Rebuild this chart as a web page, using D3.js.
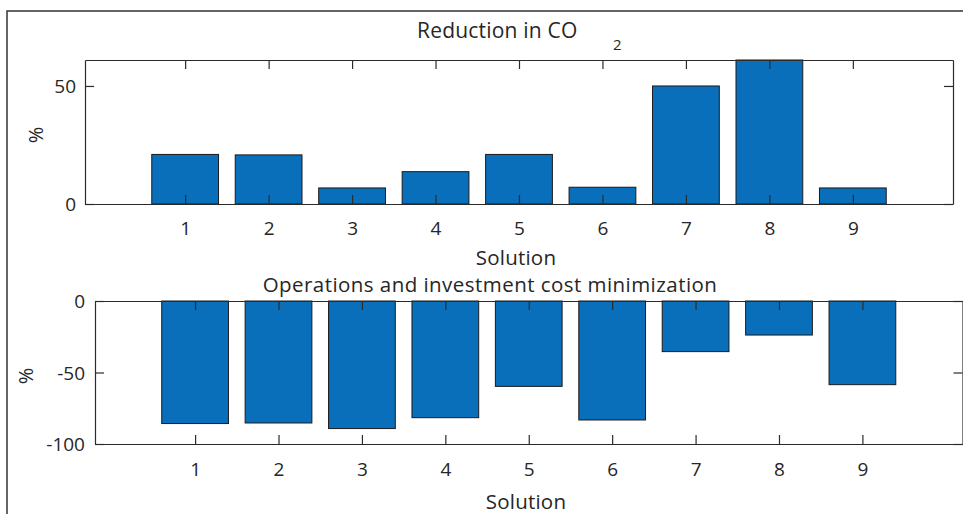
<!DOCTYPE html>
<html><head><meta charset="utf-8">
<script src="https://cdn.jsdelivr.net/npm/d3@7/dist/d3.min.js"></script>
<style>body{margin:0;background:#fff}svg{display:block}text{font-family:"Open Sans",sans-serif;fill:#262626}</style>
</head><body><svg id="c" width="963" height="514"></svg>
<script>
const solutions = [1,2,3,4,5,6,7,8,9];
const co2Reduction = [21.0, 20.8, 6.8, 13.7, 21.0, 7.1, 50.0, 61.0, 6.8];
const costChange = [-85.7, -85.3, -89.2, -81.6, -59.7, -83.2, -35.4, -23.8, -58.5];
const topYTicks = [0, 50];
const botYTicks = [-100, -50, 0];

const svg = d3.select("#c");
const axisColor = "#2b2b2b";
const barColor = "#0a6fba";

// figure border
svg.append("path").attr("d", "M7,514V11H963").attr("fill","none").attr("stroke","#333").attr("stroke-width",1.5);

function panel(o){
  const x = d3.scaleLinear().domain([-0.2, 10.2]).range([o.left, o.right]);
  const y = d3.scaleLinear().domain(o.ydom).range([o.bottom, o.top]);
  const g = svg.append("g");
  const bw = x(0.8) - x(0);
  g.selectAll("rect").data(solutions).join("rect")
    .attr("x", d => x(d) - bw/2)
    .attr("width", bw)
    .attr("y", (d,i) => Math.min(y(o.values[i]), y(0)))
    .attr("height", (d,i) => Math.abs(y(o.values[i]) - y(0)))
    .attr("fill", barColor).attr("stroke", "#1a1a1a").attr("stroke-width", 1);
  const tl = 9;
  const fmt = d => String(d);
  const axB = d3.axisBottom(x).tickValues(solutions).tickSizeInner(tl).tickSizeOuter(0).tickFormat(fmt);
  const axT = d3.axisTop(x).tickValues(solutions).tickSizeInner(tl).tickSizeOuter(0).tickFormat("");
  const axL = d3.axisLeft(y).tickValues(o.yticks).tickSizeInner(tl).tickSizeOuter(0).tickFormat(fmt);
  const axR = d3.axisRight(y).tickValues(o.yticks).tickSizeInner(tl).tickSizeOuter(0).tickFormat("");
  function style(sel){
    sel.select(".domain").attr("stroke", axisColor).attr("stroke-width",1.2);
    sel.selectAll(".tick line").attr("stroke", axisColor).attr("stroke-width",1.2);
    sel.selectAll(".tick text").attr("fill", axisColor).style("font-size","19px").style("font-family","'Open Sans',sans-serif");
  }
  const gb = g.append("g").attr("transform",`translate(0,${o.bottom})`).call(axB).call(style);
  gb.selectAll(".tick line").attr("y2", -tl);
  gb.selectAll(".tick text").attr("y", o.xLabelDy).attr("dy", null);
  const gt = g.append("g").attr("transform",`translate(0,${o.top})`).call(axT).call(style);
  gt.selectAll(".tick line").attr("y2", tl);
  const gl = g.append("g").attr("transform",`translate(${o.left},0)`).call(axL).call(style);
  gl.selectAll(".tick line").attr("x2", tl);
  gl.selectAll(".tick text").attr("x", o.yLabelDx).attr("dy","0.35em");
  const gr = g.append("g").attr("transform",`translate(${o.right},0)`).call(axR).call(style);
  gr.selectAll(".tick line").attr("x2", -tl);
  return {x, y, g};
}

panel({left:85, right:953, top:60, bottom:204, ydom:[0,61], values:co2Reduction, yticks:topYTicks, xLabelDy:31, yLabelDx:-9});
panel({left:95, right:962.5, top:301, bottom:444, ydom:[-100,0], values:costChange, yticks:botYTicks, xLabelDy:32, yLabelDx:-10});

// titles and labels
svg.append("text").attr("x", 417).attr("y", 38).style("font-size","21px").style("letter-spacing","0.2px").text("Reduction in CO");
svg.append("text").attr("x", 613).attr("y", 50).style("font-size","15px").text("2");
svg.append("text").attr("x", 490).attr("y", 292).attr("text-anchor","middle").style("font-size","20.5px").style("letter-spacing","0.45px").text("Operations and investment cost minimization");
svg.append("text").attr("x", 516).attr("y", 265).attr("text-anchor","middle").style("font-size","20.5px").style("letter-spacing","0.2px").text("Solution");
svg.append("text").attr("x", 526).attr("y", 509).attr("text-anchor","middle").style("font-size","20.5px").style("letter-spacing","0.2px").text("Solution");
svg.append("text").attr("transform","translate(43,135) rotate(-90)").attr("text-anchor","middle").style("font-size","20px").text("%");
svg.append("text").attr("transform","translate(33,376) rotate(-90)").attr("text-anchor","middle").style("font-size","20px").text("%");
</script></body></html>
